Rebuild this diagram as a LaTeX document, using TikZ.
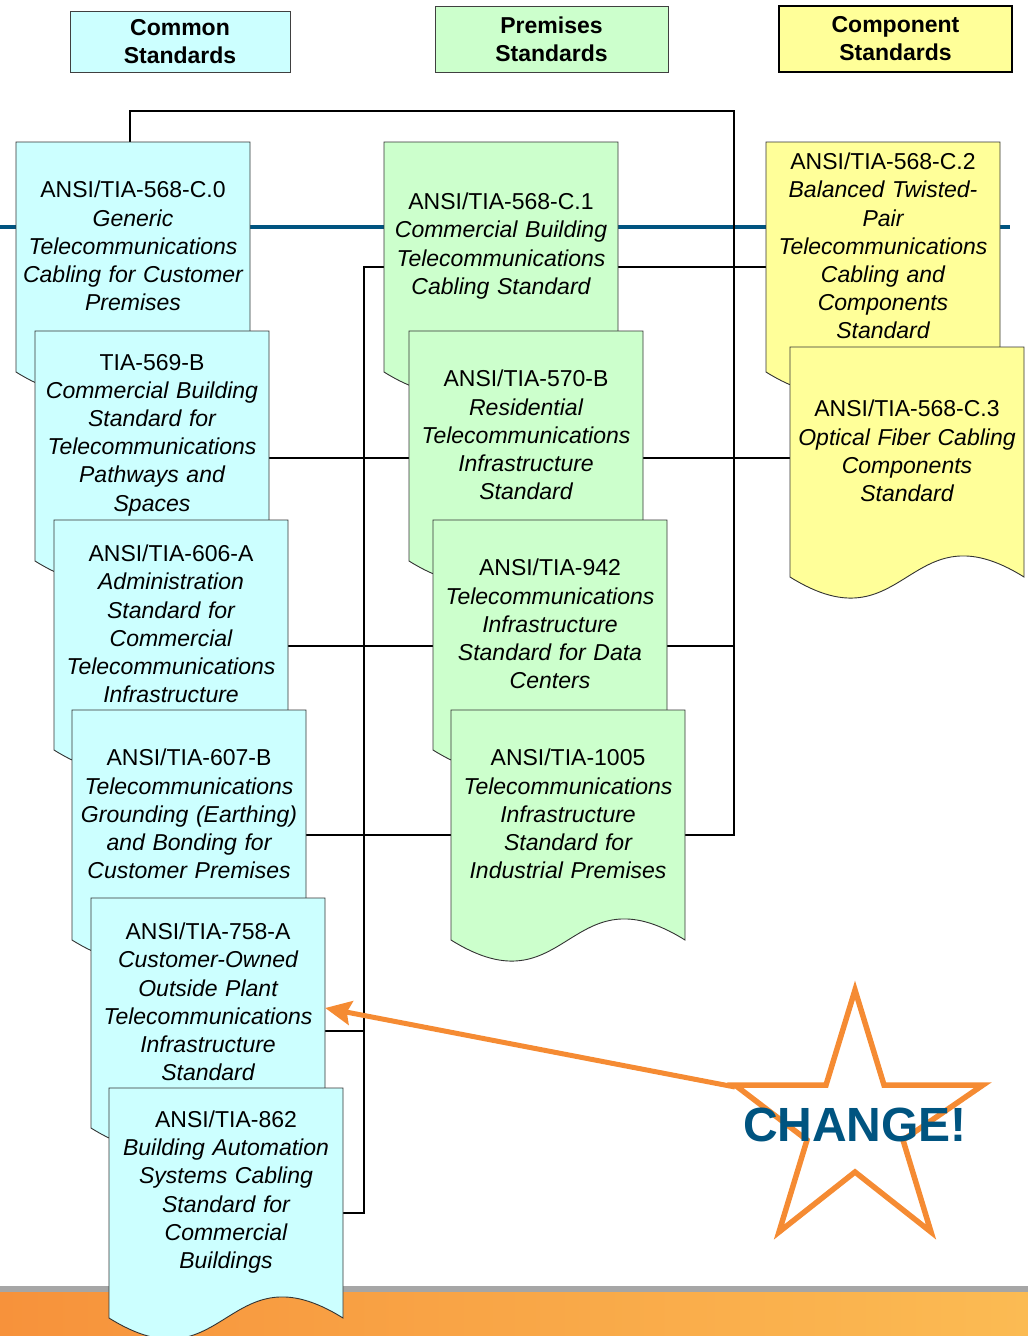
\documentclass[tikz,border=0pt]{standalone}
\usepackage{fontspec}
\setmainfont{Liberation Sans}
\usetikzlibrary{arrows.meta,calc}
\definecolor{cyanbox}{RGB}{204,255,255}
\definecolor{greenbox}{RGB}{204,255,204}
\definecolor{yellowbox}{RGB}{255,255,153}
\definecolor{blueC}{RGB}{0,84,128}
\definecolor{orangeC}{RGB}{245,139,51}
\definecolor{barL}{RGB}{247,146,59}
\definecolor{barR}{RGB}{251,187,83}
\definecolor{barGray}{RGB}{166,166,166}
\pgfdeclarelayer{background}
\pgfsetlayers{background,main}
\newcommand\docbox[5]{%
  \begin{scope}[shift={(#2,#3)}]
    \filldraw[docshape, fill=#4] (0,0) -- (234,0) -- (234,230)
      .. controls (117,157) and (117,303) .. (0,230) -- cycle;
    \node[doctext] (#1) at (117,104) {#5};
  \end{scope}}
\begin{document}
\begin{tikzpicture}[x=1pt,y=-1pt,
  docshape/.style={draw=black!80, line width=0.9pt},
  doctext/.style={text width=230pt, inner xsep=2pt, inner ysep=0pt, align=center,
    font=\fontsize{23}{28.2}\selectfont},
  hdr/.style={align=center, inner sep=0pt, font=\bfseries\fontsize{23}{28}\selectfont,
    line width=0.9pt, draw=black!75},
  conn/.style={draw=black, line width=2.6pt},
  blueline/.style={draw=blueC, line width=3.6pt},
  orangearrow/.style={draw=orangeC, line width=5pt, -{Stealth[length=26pt,width=24pt,inset=4pt]}},
  starline/.style={draw=orangeC, line width=5.5pt, line join=miter}]
\useasboundingbox (0,0) rectangle (1028,1336);

% headers
\node[hdr, fill=cyanbox, minimum width=220pt, minimum height=61pt] (hc) at (180,41.5) {Common\\Standards};
\node[hdr, fill=greenbox, minimum width=233pt, minimum height=66pt] (hp) at (551.5,39) {Premises\\Standards};
\node[hdr, fill=yellowbox, draw=black, line width=1.6pt, minimum width=233pt, minimum height=66pt] (hk) at (895.5,39) {Component\\Standards};

% common column
\docbox{c0}{16}{142}{cyanbox}{ANSI/TIA-568-C.0\\\itshape Generic\\Telecommunications\\Cabling for Customer\\Premises}
\docbox{b569}{35}{331}{cyanbox}{TIA-569-B\\\itshape Commercial Building\\Standard for\\Telecommunications\\Pathways and\\Spaces}
\docbox{b606}{54}{520}{cyanbox}{ANSI/TIA-606-A\\\itshape Administration\\Standard for\\Commercial\\Telecommunications\\Infrastructure}
\docbox{b607}{72}{710}{cyanbox}{ANSI/TIA-607-B\\\itshape Telecommunications\\Grounding (Earthing)\\and Bonding for\\Customer Premises}
\docbox{b758}{91}{898}{cyanbox}{ANSI/TIA-758-A\\\itshape Customer-Owned\\Outside Plant\\Telecommunications\\Infrastructure\\Standard}
\docbox{b862}{109}{1088}{cyanbox}{ANSI/TIA-862\\\itshape Building Automation\\Systems Cabling\\Standard for\\Commercial\\Buildings}

% premises column
\docbox{c1}{384}{142}{greenbox}{ANSI/TIA-568-C.1\\\itshape Commercial Building\\Telecommunications\\Cabling Standard}
\docbox{b570}{409}{331}{greenbox}{ANSI/TIA-570-B\\\itshape Residential\\Telecommunications\\Infrastructure\\Standard}
\docbox{b942}{433}{520}{greenbox}{ANSI/TIA-942\\\itshape Telecommunications\\Infrastructure\\Standard for Data\\Centers}
\docbox{b1005}{451}{710}{greenbox}{ANSI/TIA-1005\\\itshape Telecommunications\\Infrastructure\\Standard for\\Industrial Premises}

% component column
\docbox{c2}{766}{142}{yellowbox}{ANSI/TIA-568-C.2\\\itshape Balanced Twisted-\\Pair\\Telecommunications\\Cabling and\\Components\\Standard}
\docbox{c3}{790}{347}{yellowbox}{ANSI/TIA-568-C.3\\\itshape Optical Fiber Cabling\\Components\\Standard}

\coordinate (loopR) at (734,111);
\coordinate (Lx) at (364,267);
\coordinate (blL) at (0,227);
\coordinate (blR) at (1010,227);

\begin{pgfonlayer}{background}
  \fill[barGray] (0,1286) rectangle (1028,1292);
  \shade[left color=barL, right color=barR] (0,1292) rectangle (1028,1336);
  \draw[blueline] (blL) -- (blR);
  % right loop
  \draw[conn] ([xshift=-3pt,yshift=104pt]c0.center) |- (loopR) |- ([yshift=-21pt]b1005.east);
  \draw[conn] ([yshift=-22pt]b942.east) -- ([yshift=-22pt]b942.east -| loopR);
  \draw[conn] ([yshift=-21pt]c1.east) -- ([yshift=-21pt]c1.east -| c2.west);
  \draw[conn] ([yshift=-23pt]b570.east) -- ([yshift=-23pt]b570.east -| c3.west);
  % left loop
  \draw[conn] ([yshift=-21pt]c1.west) -| ([yshift=-21pt]b862.east -| Lx) -- ([yshift=-21pt]b862.east);
  \draw[conn] ([yshift=-23pt]b569.east) -- ([yshift=-23pt]b570.west);
  \draw[conn] ([yshift=-22pt]b606.east) -- ([yshift=-22pt]b942.west);
  \draw[conn] ([yshift=-21pt]b607.east) -- ([yshift=-21pt]b1005.west);
  \draw[conn] ([yshift=-29pt]b758.east) -- ([yshift=-29pt]b758.east -| Lx);
\end{pgfonlayer}

% star and change
\coordinate (starL) at (735,1087);
\draw[orangearrow] (starL) -- ([yshift=-6pt]b758.east);
\draw[starline] (855,990) -- (826,1085) -- (735,1085) -- (807,1140) -- (779,1232)
  -- (855,1172) -- (931,1232) -- (903,1140) -- (983,1085) -- (884,1085) -- cycle;
\node[font=\bfseries\fontsize{48}{48}\selectfont, text=blueC, inner sep=0pt] (chg) at (855,1125) {CHANGE!};
\end{tikzpicture}
\end{document}
